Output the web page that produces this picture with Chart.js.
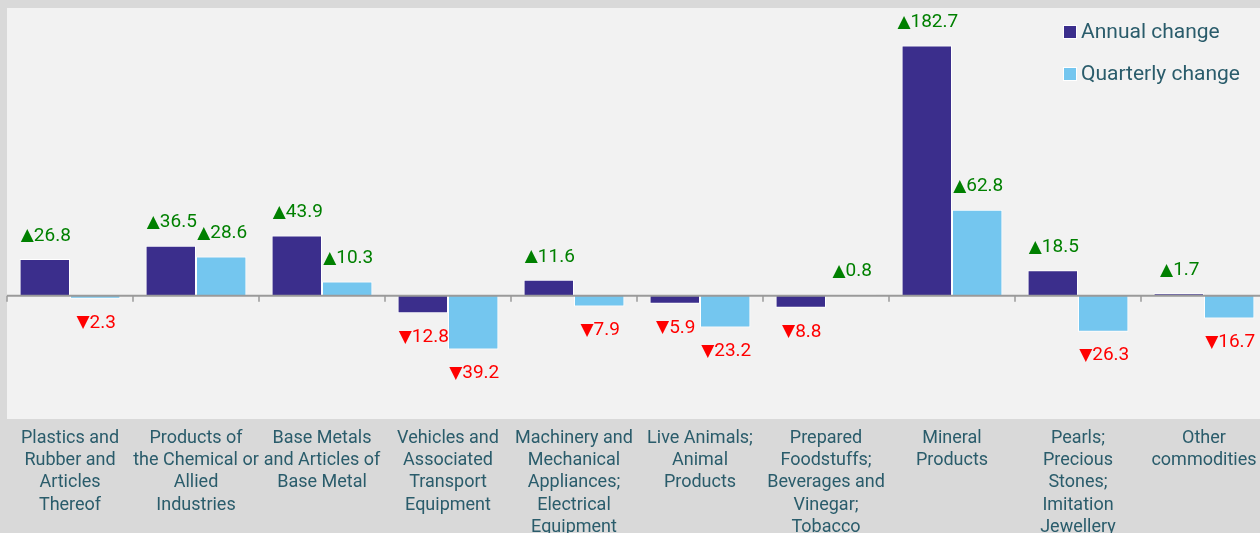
<!DOCTYPE html>
<html>
<head>
<meta charset="utf-8">
<script src="https://cdn.jsdelivr.net/npm/chart.js@4.4.1/dist/chart.umd.min.js"></script>
<style>
  html, body { margin: 0; padding: 0; background: #d9d9d9; overflow: hidden; }
  #wrap { width: 1267px; height: 533px; }
</style>
</head>
<body>
<div id="wrap"><canvas id="chart" width="1267" height="533"></canvas></div>
<script>
// ─── DATA ─────────────────────────────────────────────────────────
const categories = [
  ["Plastics and", "Rubber and", "Articles", "Thereof"],
  ["Products of", "the Chemical or", "Allied", "Industries"],
  ["Base Metals", "and Articles of", "Base Metal"],
  ["Vehicles and", "Associated", "Transport", "Equipment"],
  ["Machinery and", "Mechanical", "Appliances;", "Electrical", "Equipment"],
  ["Live Animals;", "Animal", "Products"],
  ["Prepared", "Foodstuffs;", "Beverages and", "Vinegar;", "Tobacco"],
  ["Mineral", "Products"],
  ["Pearls;", "Precious", "Stones;", "Imitation", "Jewellery"],
  ["Other", "commodities"]
];
const annualChange    = [26.8, 36.5, 43.9, -12.8, 11.6, -5.9, -8.8, 182.7, 18.5, 1.7];
const quarterlyChange = [-2.3, 28.6, 10.3, -39.2, -7.9, -23.2, 0.8, 62.8, -26.3, -16.7];

const FONT = "Roboto, 'Open Sans', sans-serif";
const TEXT_COLOR = "#2a5c6b";

// ─── PLUGINS ──────────────────────────────────────────────────────
// light panel behind the plot area
const panelBg = {
  id: "panelBg",
  beforeDraw(chart) {
    const { ctx, chartArea: a } = chart;
    ctx.save();
    ctx.fillStyle = "#f2f2f2";
    ctx.fillRect(a.left, a.top, a.right - a.left, a.bottom - a.top);
    ctx.restore();
  }
};

// zero line with small ticks between categories
const zeroAxis = {
  id: "zeroAxis",
  afterDatasetsDraw(chart) {
    const { ctx, chartArea: a, scales } = chart;
    const y0 = scales.y.getPixelForValue(0);
    const step = scales.x.getPixelForValue(1) - scales.x.getPixelForValue(0);
    ctx.save();
    ctx.strokeStyle = "#9a9a9a";
    ctx.lineWidth = 2;
    ctx.beginPath();
    ctx.moveTo(a.left, y0);
    ctx.lineTo(a.right, y0);
    ctx.stroke();
    ctx.lineWidth = 1.5;
    for (let i = 0; i <= categories.length; i++) {
      const x = scales.x.getPixelForValue(0) - step / 2 + i * step;
      ctx.beginPath();
      ctx.moveTo(x, y0);
      ctx.lineTo(x, y0 + 6);
      ctx.stroke();
    }
    ctx.restore();
  }
};

// ▲ / ▼ value labels (triangle in DejaVu, number in Roboto)
const valueLabels = {
  id: "valueLabels",
  afterDatasetsDraw(chart) {
    const { ctx } = chart;
    const triFont = "17px 'DejaVu Sans'";
    const numFont = `19px ${FONT}`;
    ctx.save();
    ctx.textBaseline = "middle";
    ctx.textAlign = "left";
    chart.data.datasets.forEach((ds, di) => {
      chart.getDatasetMeta(di).data.forEach((bar, i) => {
        const v = ds.data[i];
        const up = v >= 0;
        const tri = up ? "▲" : "▼";
        const num = Math.abs(v).toFixed(1);
        ctx.font = triFont;
        const tw = ctx.measureText(tri).width;
        ctx.font = numFont;
        const nw = ctx.measureText(num).width;
        const x0 = bar.x + 1 - (tw + nw) / 2;
        const y = up ? bar.y - 23 : bar.y + 24;
        ctx.fillStyle = up ? "#008000" : "#ff0000";
        ctx.font = triFont;
        ctx.fillText(tri, x0, y);
        ctx.font = numFont;
        ctx.fillText(num, x0 + tw, y);
      });
    });
    ctx.restore();
  }
};

// legend in the top-right corner
const cornerLegend = {
  id: "cornerLegend",
  afterDraw(chart) {
    const { ctx } = chart;
    ctx.save();
    ctx.font = `21px ${FONT}`;
    ctx.textBaseline = "middle";
    chart.data.datasets.forEach((ds, i) => {
      const x = 1064, y = 32 + i * 42;
      ctx.fillStyle = "#ffffff";
      ctx.fillRect(x - 1, y - 7, 14, 14);
      ctx.fillStyle = ds.backgroundColor;
      ctx.fillRect(x, y - 6, 12, 12);
      ctx.fillStyle = TEXT_COLOR;
      ctx.fillText(ds.label, x + 17, y + 1);
    });
    ctx.restore();
  }
};

// ─── CHART ────────────────────────────────────────────────────────
new Chart(document.getElementById("chart"), {
  type: "bar",
  data: {
    labels: categories,
    datasets: [
      {
        label: "Annual change",
        data: annualChange,
        backgroundColor: "#3b2e8c",
        borderColor: "#ffffff",
        borderWidth: 1
      },
      {
        label: "Quarterly change",
        data: quarterlyChange,
        backgroundColor: "#74c6ef",
        borderColor: "#ffffff",
        borderWidth: 1
      }
    ]
  },
  options: {
    responsive: false,
    animation: false,
    layout: { padding: { left: 7, top: 8, right: 0, bottom: 0 } },
    datasets: { bar: { categoryPercentage: 0.8, barPercentage: 1 } },
    plugins: {
      legend: { display: false },
      tooltip: { enabled: false }
    },
    scales: {
      x: {
        grid: { display: false },
        border: { display: false },
        afterFit(scale) { scale.height = 114; },
        ticks: {
          autoSkip: false,
          maxRotation: 0,
          padding: 0,
          color: TEXT_COLOR,
          font: { family: FONT, size: 18, lineHeight: 1.24 }
        }
      },
      y: {
        display: false,
        min: -90,
        max: 210
      }
    }
  },
  plugins: [panelBg, zeroAxis, valueLabels, cornerLegend]
});
</script>
</body>
</html>
